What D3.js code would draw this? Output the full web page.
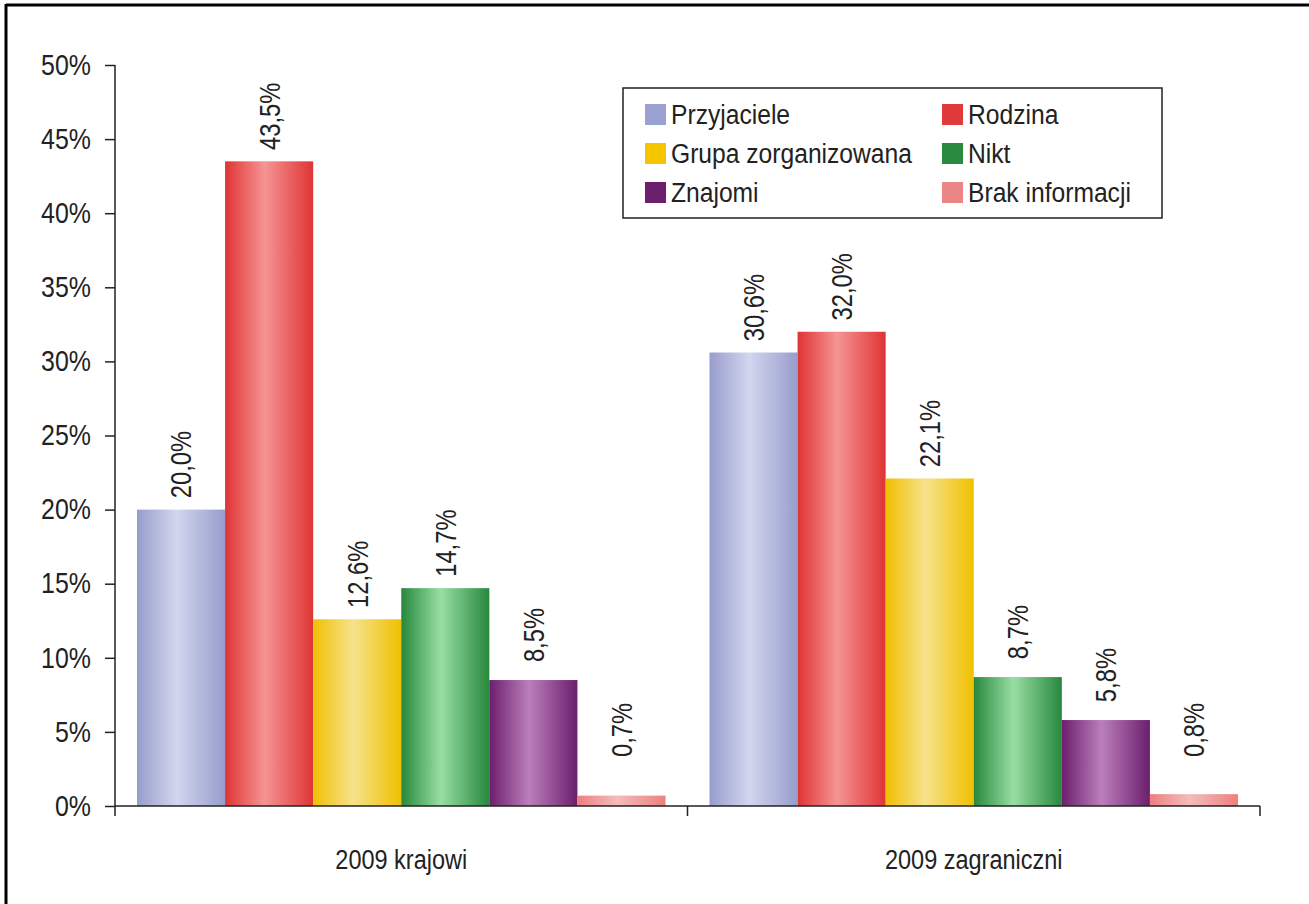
<!DOCTYPE html>
<html><head><meta charset="utf-8">
<script src="https://cdn.jsdelivr.net/npm/d3@7"></script>
<style>
body{margin:0;background:#fff;}
svg text{font-family:"Liberation Sans",Arial,sans-serif;fill:#222;}
</style></head><body>
<svg id="c" width="1309" height="904"></svg>
<script>
const categories = ["2009 krajowi", "2009 zagraniczni"];
const seriesNames = ["Przyjaciele", "Rodzina", "Grupa zorganizowana", "Nikt", "Znajomi", "Brak informacji"];
const krajowi = [20.0, 43.5, 12.6, 14.7, 8.5, 0.7];
const zagraniczni = [30.6, 32.0, 22.1, 8.7, 5.8, 0.8];
const yTicks = [0, 5, 10, 15, 20, 25, 30, 35, 40, 45, 50];
const edgeColors = ["#979dcb", "#df3434", "#f0c000", "#27883c", "#6b1e6c", "#ec8080"];
const lightColors = ["#d2d6ef", "#f59494", "#f6e28c", "#98dea4", "#bb7fbc", "#f4bcbc"];
const legendColors = ["#9ba1d1", "#e03a3a", "#f5c500", "#2a8a40", "#6b1f6e", "#ec8585"];

(function(){
const values = [krajowi, zagraniczni];
const svg = d3.select("#c");
const mLeft = 115, mRight = 1260, mTop = 65, mBottom = 806;
const SX = 0.82; // horizontal condensing of the narrow font

// frame (top & left)
svg.append("line").attr("x1",6).attr("x2",1309).attr("y1",5).attr("y2",5).attr("stroke","#000").attr("stroke-width",3);
svg.append("line").attr("x1",6).attr("x2",6).attr("y1",4).attr("y2",904).attr("stroke","#000").attr("stroke-width",3);

const x0 = d3.scaleBand().domain(categories).range([mLeft, mRight]).paddingInner(0).paddingOuter(0);
const x1 = d3.scaleBand().domain(seriesNames).range([22, x0.bandwidth()-22]).padding(0);
const y = d3.scaleLinear().domain([0, 50]).range([mBottom, mTop]);

const defs = svg.append("defs");
seriesNames.forEach((s,i)=>{
  const g = defs.append("linearGradient").attr("id","g"+i).attr("x1","0%").attr("x2","100%").attr("y1","0%").attr("y2","0%");
  g.append("stop").attr("offset","0%").attr("stop-color",edgeColors[i]);
  g.append("stop").attr("offset","45%").attr("stop-color",lightColors[i]);
  g.append("stop").attr("offset","100%").attr("stop-color",edgeColors[i]);
});

const fmt = v => v.toFixed(1).replace(".", ",") + "%";
const LFS = 29;

categories.forEach((c, ci) => {
  const g = svg.append("g").attr("transform", `translate(${x0(c)},0)`);
  seriesNames.forEach((s, si) => {
    const v = values[ci][si];
    g.append("rect").attr("x", x1(s)).attr("width", x1.bandwidth())
      .attr("y", y(v)).attr("height", y(0) - y(v)).attr("fill", `url(#g${si})`);
    const cx = x1(s) + x1.bandwidth()/2;
    const cy = Math.min(y(v) - 45, y(0) - 76);
    g.append("text").attr("transform", `translate(${cx + 0.36*LFS},${cy}) rotate(-90) scale(${SX},1)`)
      .attr("text-anchor","middle").attr("font-size",LFS).text(fmt(v));
  });
});

// y axis
const yAxis = d3.axisLeft(y).tickValues(yTicks).tickFormat(d => d + "%").tickSize(10).tickPadding(14);
const ya = svg.append("g").attr("transform", `translate(${mLeft},0)`).call(yAxis);
ya.select(".domain").remove();
ya.selectAll("line").attr("stroke","#222").attr("stroke-width",1.5);
ya.selectAll("text").attr("font-size",29).attr("fill","#222")
  .attr("x", -24/0.86).attr("transform","scale(0.86,1)");
svg.append("line").attr("x1",mLeft).attr("x2",mLeft).attr("y1",mTop).attr("y2",mBottom+10).attr("stroke","#222").attr("stroke-width",1.5);

// x axis
svg.append("line").attr("x1",mLeft).attr("x2",mRight).attr("y1",mBottom).attr("y2",mBottom).attr("stroke","#222").attr("stroke-width",1.5);
const xa = svg.append("g").attr("transform", `translate(0,${mBottom})`)
  .call(d3.axisBottom(x0).tickSize(0));
xa.select(".domain").remove();
xa.selectAll("text").attr("font-size",27).attr("fill","#222")
  .attr("y",54).attr("dy","0.35em").attr("transform","scale(0.87,1)")
  .attr("x", 0);
[x0.range()[0] + x0.bandwidth(), mRight].forEach(px => {
  svg.append("line").attr("x1",px).attr("x2",px).attr("y1",mBottom).attr("y2",mBottom+10).attr("stroke","#222").attr("stroke-width",1.5);
});

// legend
const lg = svg.append("g");
lg.append("rect").attr("x",623).attr("y",88).attr("width",539).attr("height",130).attr("fill","#fff").attr("stroke","#222").attr("stroke-width",1.5);
seriesNames.forEach((s,i)=>{
  const col = i % 2, row = Math.floor(i/2);
  const lx = 645 + col*297, ly = 114 + row*39;
  lg.append("rect").attr("x",lx).attr("y",ly-10).attr("width",21).attr("height",21).attr("fill",legendColors[i]);
  lg.append("g").attr("transform", `translate(${lx+26},${ly}) scale(0.88,1)`)
    .append("text").attr("dy","0.36em").attr("font-size",28).text(s);
});
})();
</script>
</body></html>
